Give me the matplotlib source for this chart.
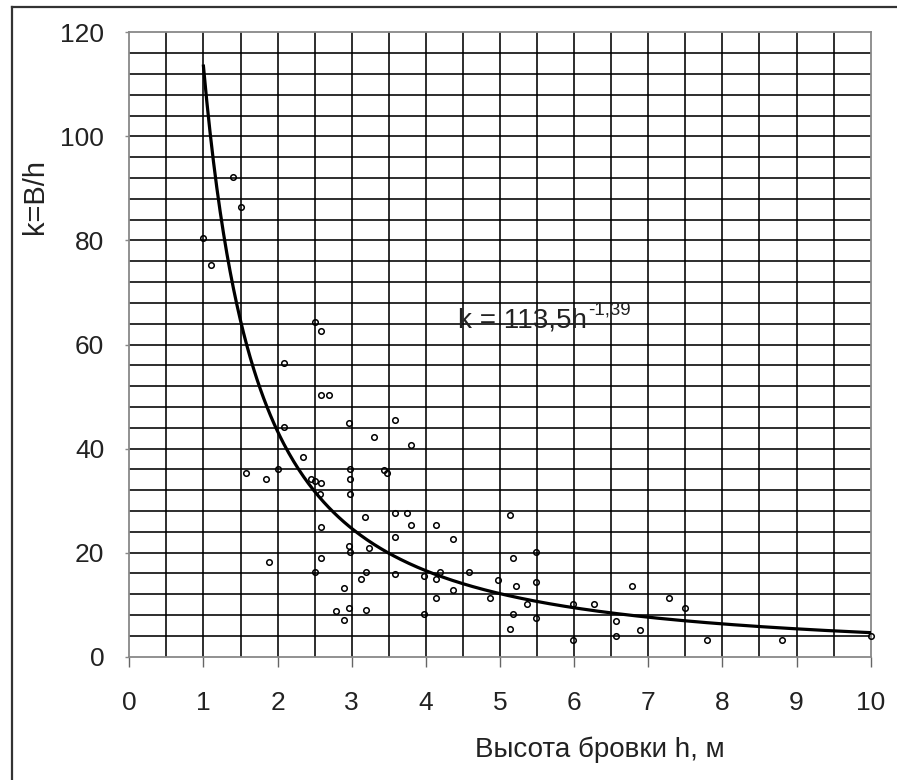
import numpy as np
import matplotlib
matplotlib.use("Agg")
import matplotlib.pyplot as plt
from matplotlib.lines import Line2D

plt.rcParams['font.family'] = ['Liberation Sans', 'DejaVu Sans']

# Measured bank heights h (m) and ratios k = B/h
h_obs = [0.99, 1.10, 1.40, 1.50,
         1.57, 1.84, 1.89, 2.00, 2.08, 2.08, 2.34, 2.45, 2.50, 2.58, 2.57,
         2.51, 2.58, 2.58, 2.69, 2.50, 2.58, 2.58,
         2.79, 2.90, 2.90, 2.96, 2.97, 2.98, 2.97, 2.98, 2.98, 2.98,
         3.13, 3.19, 3.19, 3.18, 3.23, 3.30, 3.43, 3.48, 3.59, 3.59,
         3.74, 3.80, 3.59, 3.59, 3.80,
         3.98, 3.98, 4.14, 4.19, 4.14, 4.14, 4.36, 4.36, 4.58, 4.87, 4.97,
         5.13, 5.18, 5.48, 5.21, 5.48, 5.37, 5.48, 5.18, 5.13,
         5.99, 6.27, 5.99, 6.56, 6.56, 6.78, 6.89, 7.28, 7.50, 7.79, 8.80, 10.0]
k_obs = [80.4, 75.3, 92.1, 86.5,
         35.3, 34.2, 18.2, 36.1, 44.2, 56.4, 38.4, 34.2, 33.8, 33.4, 31.3,
         64.4, 62.5, 50.3, 50.3, 16.2, 18.9, 24.9,
         8.7, 13.2, 7.1, 9.3, 21.2, 20.1, 44.9, 36.1, 34.2, 31.2,
         15.0, 16.2, 9.0, 26.9, 20.8, 42.3, 35.9, 35.3, 45.4, 27.7,
         27.7, 25.4, 23.1, 15.8, 40.7,
         15.5, 8.3, 15.0, 16.2, 11.2, 25.4, 22.7, 12.8, 16.2, 11.2, 14.7,
         27.2, 18.9, 20.1, 13.6, 14.3, 10.1, 7.4, 8.3, 5.3,
         10.1, 10.1, 3.2, 6.8, 4.0, 13.5, 5.2, 11.2, 9.4, 3.2, 3.2, 4.0]

# Power-law fit k = a * h^b
fit_a = 113.5
fit_b = -1.39
fit_h_range = [1.0, 10.0]
fit_label = 'k = 113,5h'
fit_exponent_label = '-1,39'

x_ticks = [0, 1, 2, 3, 4, 5, 6, 7, 8, 9, 10]
y_ticks = [0, 20, 40, 60, 80, 100, 120]

W, H = 897, 780
fig = plt.figure(figsize=(W / 100, H / 100), dpi=100)
ax = fig.add_axes([129.3 / W, 1 - 656.7 / H, 741.4 / W, 624.4 / H])

ax.set_xlim(0, 10)
ax.set_ylim(0, 120)

# dense grid: every 0.5 m horizontally, every 4 units vertically
for xv in np.arange(0.5, 10, 0.5):
    ax.axvline(xv, color='black', lw=1.15, zorder=1)
for yv in np.arange(4, 120, 4):
    ax.axhline(yv, color='black', lw=1.15, zorder=1)

hh = np.linspace(fit_h_range[0], fit_h_range[1], 400)
ax.plot(hh, fit_a * hh ** fit_b, color='black', lw=2.3, zorder=3)

ax.plot(h_obs, k_obs, linestyle='none', marker='o', markersize=4.0,
        markerfacecolor='none', markeredgecolor='black', markeredgewidth=1.1,
        zorder=4, clip_on=False)

eq = ax.text(4.43, 63.3, fit_label, fontsize=20, ha='left', va='baseline',
             color='#222222', zorder=5)
ax.annotate(fit_exponent_label, xy=(1.0, 1.0), xycoords=eq,
            xytext=(1, 4), textcoords='offset points',
            fontsize=13.5, ha='left', va='top', color='#222222', zorder=5)

for s in ax.spines.values():
    s.set_color('#888888')
    s.set_linewidth(1.3)
    s.set_linestyle((0, (3, 1)))

ax.set_xticks(x_ticks)
ax.set_yticks(y_ticks)
ax.tick_params(axis='x', length=7, width=1, color='#666666', pad=18,
               labelsize=19, labelcolor='#222222')
ax.tick_params(axis='y', length=3, width=1, color='#888888', pad=15,
               labelsize=19, labelcolor='#222222')

ax.set_ylabel('k=B/h', fontsize=21, color='#222222', va='center', ha='center')
ax.yaxis.set_label_coords(-0.127, 0.737)
ax.set_xlabel('Высота бровки h, м', fontsize=20, color='#222222',
              va='center', ha='center')
ax.xaxis.set_label_coords(0.635, -0.149)

# outer frame of the figure (left and top edges)
fig.add_artist(Line2D([12 / W, 12 / W], [0, 1 - 7 / H], color='#333333',
                      lw=1.6, transform=fig.transFigure))
fig.add_artist(Line2D([12 / W, 1], [1 - 7 / H, 1 - 7 / H], color='#333333',
                      lw=1.6, transform=fig.transFigure))

fig.savefig('out.png', dpi=100)
